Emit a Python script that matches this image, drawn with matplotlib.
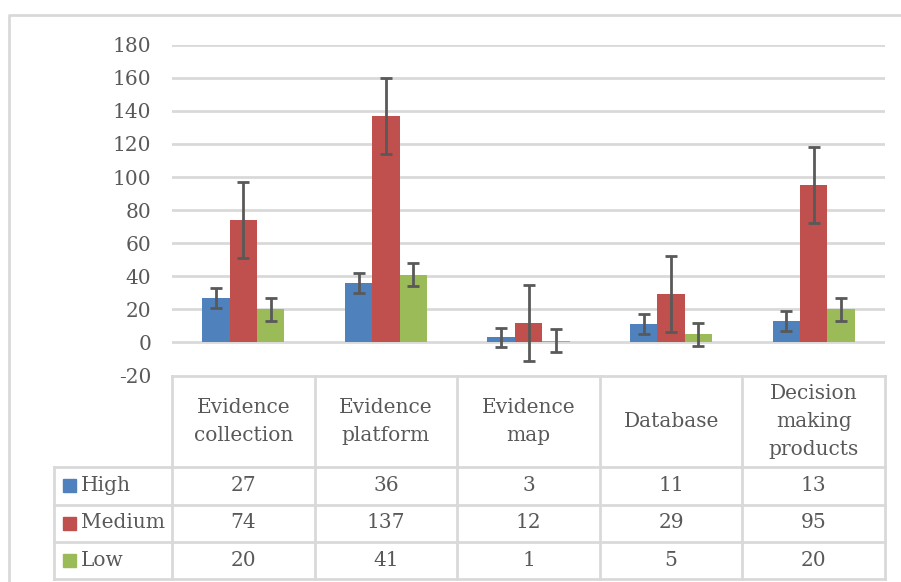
import matplotlib.pyplot as plt
import numpy as np

categories = ["Evidence\ncollection", "Evidence\nplatform", "Evidence\nmap", "Database",
              "Decision\nmaking\nproducts"]
series = ["High", "Medium", "Low"]
high = [27, 36, 3, 11, 13]
medium = [74, 137, 12, 29, 95]
low = [20, 41, 1, 5, 20]
# error bar half-lengths
err_high = [6, 6, 6, 6, 6]
err_medium = [23, 23, 23, 23, 23]
err_low = [7, 7, 7, 7, 7]
yticks = [-20, 0, 20, 40, 60, 80, 100, 120, 140, 160, 180]

colors = ["#4F81BD", "#C0504D", "#9BBB59"]
text_color = "#595959"
grid_color = "#D9D9D9"
fs = 14.5
plt.rcParams["font.family"] = ["DejaVu Serif"]

W, H = 901, 582
fig = plt.figure(figsize=(W / 100, H / 100), dpi=100)


def fx(px):
    return px / W


def fy(py):
    return 1 - py / H


# overlay in pixel coordinates for border and table
ov = fig.add_axes([0, 0, 1, 1])
ov.set_xlim(0, W)
ov.set_ylim(H, 0)
ov.axis("off")

# chart border
ov.plot([9, 9, W + 5], [H + 5, 15, 15], color=grid_color, lw=2, solid_capstyle="butt")

# main plot axes
x0, x1 = 172, 885
ytop, ybot = 44.7, 375.5
ax = fig.add_axes([fx(x0), fy(ybot), fx(x1) - fx(x0), fy(ytop) - fy(ybot)])
ax.set_xlim(-0.5, len(categories) - 0.5)
ax.set_ylim(-20, 180)
for s in ax.spines.values():
    s.set_visible(False)
ax.set_xticks([])
ax.set_yticks(yticks)
ax.set_yticklabels([str(t) for t in yticks], color=text_color, fontsize=fs)
ax.tick_params(axis="y", length=0, pad=15)
for t in yticks[1:]:
    ax.axhline(t, color=grid_color, lw=2, zorder=0)
ax.patch.set_alpha(0)

x = np.arange(len(categories))
w = 0.192
data = [high, medium, low]
errs = [err_high, err_medium, err_low]
for i, (vals, e) in enumerate(zip(data, errs)):
    ax.bar(x + (i - 1) * w, vals, w, color=colors[i], zorder=2,
           yerr=e, ecolor="#595959",
           error_kw=dict(elinewidth=2, capsize=4, capthick=2, zorder=3))

# data table
col_edges = np.linspace(x0, x1, len(categories) + 1)
row_y = [376, 467, 504.5, 541.5, 578.5]
leg_x = 54
ov.plot([x0, x1], [row_y[0], row_y[0]], color=grid_color, lw=2)
for y in row_y[1:]:
    ov.plot([leg_x, x1], [y, y], color=grid_color, lw=2)
for xe in col_edges:
    ov.plot([xe, xe], [row_y[0], row_y[-1]], color=grid_color, lw=2)
ov.plot([leg_x, leg_x], [row_y[1], row_y[-1]], color=grid_color, lw=2)

for j, cat in enumerate(categories):
    cx = (col_edges[j] + col_edges[j + 1]) / 2
    ov.text(cx, (row_y[0] + row_y[1]) / 2, cat, ha="center", va="center",
            fontsize=fs, color=text_color, linespacing=1.6)
    for i, vals in enumerate(data):
        cy = (row_y[i + 1] + row_y[i + 2]) / 2
        ov.text(cx, cy, str(vals[j]), ha="center", va="center",
                fontsize=fs, color=text_color)

for i, name in enumerate(series):
    cy = (row_y[i + 1] + row_y[i + 2]) / 2
    ov.add_patch(plt.Rectangle((63, cy - 6.5), 13, 13, color=colors[i]))
    ov.text(81, cy, name, ha="left", va="center", fontsize=fs, color=text_color)

fig.savefig("out.png", dpi=100)
